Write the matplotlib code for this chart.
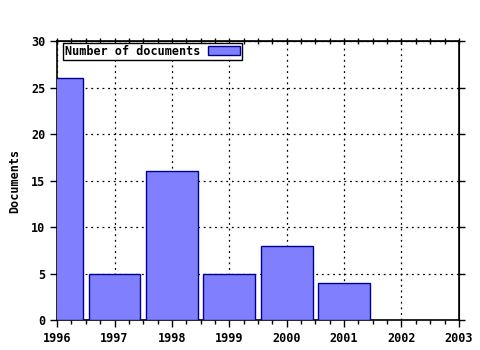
import matplotlib
matplotlib.use("Agg")
import matplotlib.pyplot as plt
from matplotlib.ticker import MultipleLocator

# data
years = [1996, 1997, 1998, 1999, 2000, 2001]
docs = [26, 5, 16, 5, 8, 4]

plt.rcParams['font.family'] = 'DejaVu Sans Mono'
plt.rcParams['font.weight'] = 'bold'
plt.rcParams['font.size'] = 8.5

fig = plt.figure(figsize=(4.8, 3.5), dpi=100)
ax = fig.add_axes([0.119, 0.0857, 0.837, 0.797])

ax.bar(years, docs, width=0.9, color='#8080ff', edgecolor='#000090',
       linewidth=1, label='Number of documents', zorder=3)

ax.set_xlim(1996, 2003)
ax.set_ylim(0, 30)
ax.xaxis.set_major_locator(MultipleLocator(1))
ax.xaxis.set_minor_locator(MultipleLocator(0.25))
ax.yaxis.set_major_locator(MultipleLocator(5))
ax.grid(True, which='major', color='black', linestyle=(0, (1.5, 3)), linewidth=0.9)

ax.tick_params(which='both', direction='out', width=1)
ax.tick_params(which='major', length=5)
ax.tick_params(axis='x', which='minor', length=3)
for s in ax.spines.values():
    s.set_linewidth(1.2)

# top: small minor ticks, right: short outward majors
top = ax.secondary_xaxis('top')
top.xaxis.set_major_locator(MultipleLocator(1))
top.xaxis.set_minor_locator(MultipleLocator(0.25))
top.tick_params(which='both', direction='inout', length=4, labeltop=False, width=1)
right = ax.secondary_yaxis('right')
right.yaxis.set_major_locator(MultipleLocator(5))
right.tick_params(direction='out', length=4, labelright=False, width=1)

ax.set_ylabel('Documents', fontweight='bold', labelpad=7)

leg = ax.legend(loc='upper left', bbox_to_anchor=(0.015, 0.993),
                markerfirst=False, fancybox=False, framealpha=1,
                edgecolor='black', borderpad=0.15, borderaxespad=0,
                handlelength=2.7, handleheight=0.75, handletextpad=0.65)
leg.get_frame().set_linewidth(1)

fig.savefig('out.png', dpi=100)
